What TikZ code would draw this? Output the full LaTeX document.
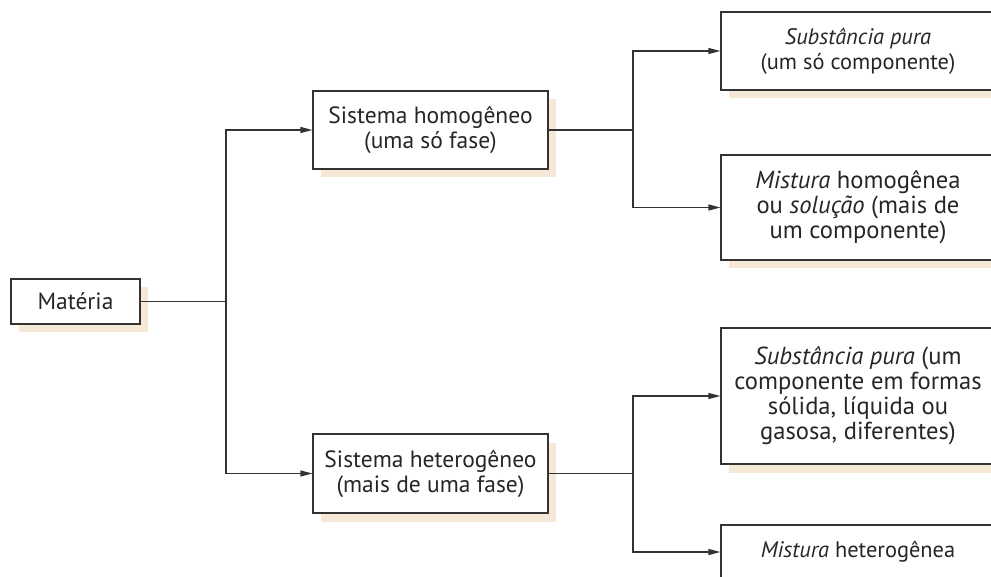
\documentclass[tikz,border=0pt]{standalone}
\usepackage{fontspec}
\setmainfont{PT Sans}
\usetikzlibrary{shadows,arrows.meta}
\definecolor{linec}{HTML}{333333}
\definecolor{beige}{HTML}{F6E8D6}
\newcommand{\fa}{\fontsize{23.5}{25}\selectfont}
\newcommand{\fb}{\fontsize{22.4}{25}\selectfont}
\newcommand{\fc}{\fontsize{24.6}{25}\selectfont}
\tikzset{
  box/.style={draw=linec, line width=1.2pt, fill=white, align=center, inner sep=0pt,
    text=black!85,
    general shadow={fill=beige, shadow xshift=8pt, shadow yshift=-8.5pt}},
  conn/.style={draw=linec, line width=1.2pt},
  arr/.style={conn, -{Triangle[length=12pt,width=6pt]}}
}
\begin{document}
\begin{tikzpicture}[x=1pt,y=-1pt]
\useasboundingbox (0,0) rectangle (991,577);
\clip (0,0) rectangle (991,577);
\node[box, font=\fa, minimum width=129pt, minimum height=45pt] (mat) at (75.5,301.5) {Matéria};
\node[box, font=\fa, minimum width=235pt, minimum height=78pt] (hom) at (430.5,130) {Sistema homogêneo\\(uma só fase)};
\node[box, font=\fa, minimum width=235pt, minimum height=79pt] (het) at (430.5,473.5) {Sistema heterogêneo\\(mais de uma fase)};
\node[box, font=\fb, minimum width=274pt, minimum height=78pt] (sp1) at (858,51) {\textit{Substância pura}\\(um só componente)};
\node[box, font=\fc, minimum width=274pt, minimum height=105pt] (mh) at (858,207.5) {\textit{Mistura} homogênea\\ou \textit{solução} (mais de\\um componente)};
\node[box, font=\fc, minimum width=274pt, minimum height=136pt] (sp2) at (858,396) {\textit{Substância pura} (um\\componente em formas\\sólida, líquida ou\\gasosa, diferentes)};
\node[box, font=\fb, minimum width=274pt, minimum height=54pt] (mhe) at (858,552) {\textit{Mistura} heterogênea};
\coordinate (j1) at (226,301.5);
\coordinate (j2) at (633,130);
\coordinate (j3) at (633,473.5);
\draw[conn] (mat.east) -- (j1);
\draw[arr] (j1) |- (hom.west);
\draw[arr] (j1) |- (het.west);
\draw[conn] (hom.east) -- (j2);
\draw[arr] (j2) |- (sp1.west);
\draw[arr] (j2) |- (mh.west);
\draw[conn] (het.east) -- (j3);
\draw[arr] (j3) |- (sp2.west);
\draw[arr] (j3) |- (mhe.west);
\end{tikzpicture}
\end{document}
